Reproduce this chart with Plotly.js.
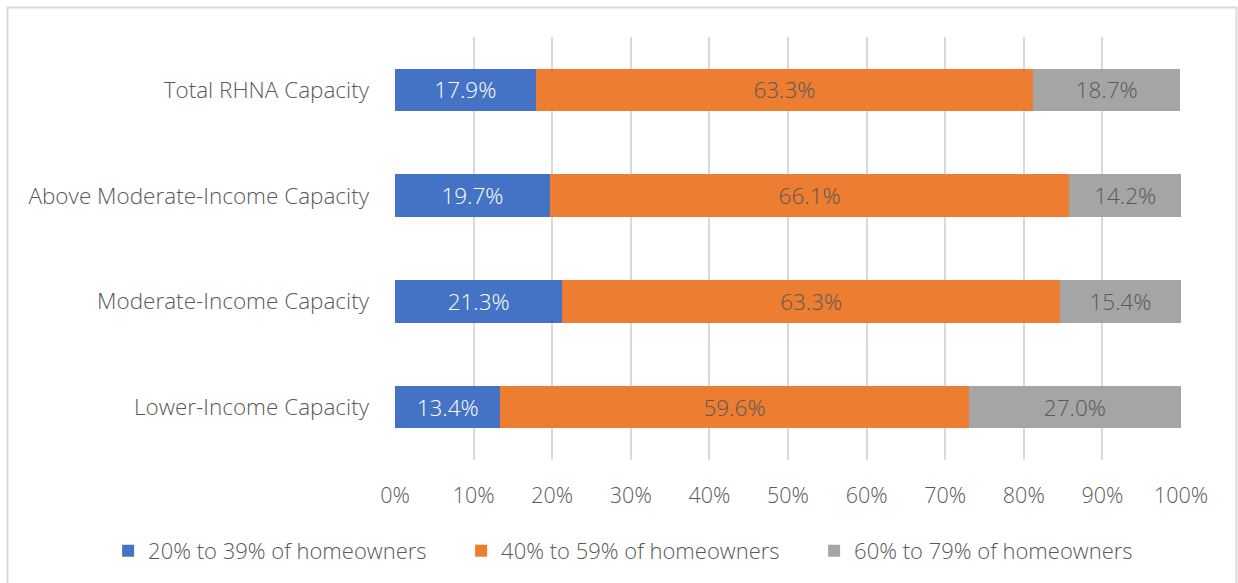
<!DOCTYPE html>
<html>
<head>
<meta charset="utf-8">
<script src="https://cdn.plot.ly/plotly-3.0.1.min.js"></script>
<style>
  html, body { margin: 0; padding: 0; background: #ffffff; }
  #chart { width: 1238px; height: 583px; }
</style>
</head>
<body>
<div id="chart"></div>
<script>
const categories = [
  "Total RHNA Capacity",
  "Above Moderate-Income Capacity",
  "Moderate-Income Capacity",
  "Lower-Income Capacity"
];
const seriesNames = [
  "20% to 39% of homeowners",
  "40% to 59% of homeowners",
  "60% to 79% of homeowners"
];
const share20to39 = [17.9, 19.7, 21.3, 13.4];
const share40to59 = [63.3, 66.1, 63.3, 59.6];
const share60to79 = [18.7, 14.2, 15.4, 27.0];
const xTickValues = [0, 10, 20, 30, 40, 50, 60, 70, 80, 90, 100];

const colors = ["#4472C4", "#ED7D31", "#A5A5A5"];
const labelColors = ["#ffffff", "#595959", "#595959"];
const FONT = "'Open Sans', 'Segoe UI', sans-serif";

const seriesValues = [share20to39, share40to59, share60to79];
const traces = seriesValues.map((vals, i) => ({
  type: "bar",
  orientation: "h",
  name: seriesNames[i],
  y: categories,
  x: vals,
  text: vals.map(v => v.toFixed(1) + "%"),
  textposition: "inside",
  insidetextanchor: "middle",
  constraintext: "none",
  textangle: 0,
  textfont: { family: FONT, size: 22.5, color: labelColors[i], weight: 300 },
  marker: { color: colors[i], line: { width: 0 } },
  hoverinfo: "skip"
}));

const layout = {
  width: 1238,
  height: 583,
  barmode: "stack",
  bargap: 0.6,
  margin: { l: 395, r: 57, t: 37, b: 123, pad: 0, autoexpand: false },
  paper_bgcolor: "#ffffff",
  plot_bgcolor: "#ffffff",
  font: { family: FONT, size: 22, color: "#595959", weight: 300 },
  showlegend: true,
  legend: {
    orientation: "h",
    x: -0.365,
    xanchor: "left",
    y: -0.215,
    yanchor: "middle",
    entrywidth: 308,
    entrywidthmode: "pixels",
    traceorder: "normal",
    font: { family: FONT, size: 22, color: "#595959", weight: 300 },
    bgcolor: "rgba(0,0,0,0)"
  },
  xaxis: {
    range: [0, 100],
    tickvals: xTickValues,
    ticktext: xTickValues.map(v => v + "%"),
    showgrid: true,
    gridcolor: "#d9d9d9",
    gridwidth: 2,
    zeroline: false,
    showline: false,
    ticks: "",
    ticklabelstandoff: 20,
    tickfont: { family: FONT, size: 21.5, color: "#595959", weight: 300 },
    fixedrange: true
  },
  yaxis: {
    type: "category",
    categoryorder: "array",
    categoryarray: categories,
    autorange: "reversed",
    showgrid: false,
    zeroline: false,
    showline: false,
    ticks: "",
    ticklabelstandoff: 25,
    tickfont: { family: FONT, size: 22.5, color: "#595959", weight: 300 },
    fixedrange: true
  },
  shapes: [{
    type: "rect",
    xref: "paper", yref: "paper",
    x0: -0.493, x1: 1.0706,
    y0: -0.31, y1: 1.0697,
    line: { color: "#d9d9d9", width: 2 },
    fillcolor: "rgba(0,0,0,0)",
    layer: "below"
  }]
};

Plotly.newPlot("chart", traces, layout, { displayModeBar: false, staticPlot: true });
</script>
</body>
</html>
